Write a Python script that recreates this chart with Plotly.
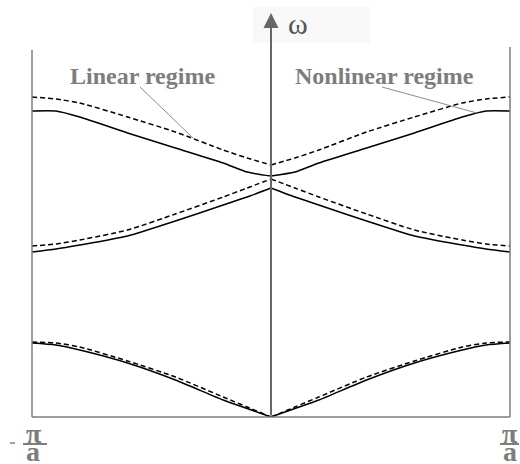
import plotly.graph_objects as go

# Wave number in units of pi/a across the first Brillouin zone
k = [-1.0, -0.9, -0.8, -0.6, -0.4, -0.2, -0.1, 0.0, 0.1, 0.2, 0.4, 0.6, 0.8, 0.9, 1.0]

# Dispersion branches (omega, arbitrary units): linear regime (dashed)
band1_linear = [0.75, 0.74, 0.70, 0.56, 0.40, 0.20, 0.10, 0.00, 0.10, 0.20, 0.40, 0.56, 0.70, 0.74, 0.75]
band2_linear = [1.71, 1.73, 1.77, 1.87, 2.03, 2.20, 2.29, 2.38, 2.29, 2.20, 2.03, 1.87, 1.77, 1.73, 1.71]
band3_linear = [3.20, 3.18, 3.14, 3.00, 2.85, 2.67, 2.59, 2.52, 2.59, 2.67, 2.85, 3.00, 3.14, 3.18, 3.20]

# Nonlinear regime (solid)
band1_nonlinear = [0.74, 0.72, 0.67, 0.54, 0.37, 0.17, 0.085, 0.00, 0.085, 0.17, 0.37, 0.54, 0.67, 0.72, 0.74]
band2_nonlinear = [1.65, 1.68, 1.72, 1.81, 1.96, 2.12, 2.20, 2.29, 2.20, 2.12, 1.96, 1.81, 1.72, 1.68, 1.65]
band3_nonlinear = [3.06, 3.06, 3.00, 2.84, 2.69, 2.54, 2.45, 2.41, 2.45, 2.54, 2.69, 2.84, 3.00, 3.06, 3.06]

GRAY = "#7d7d7d"
SERIF = "Liberation Serif"

W, H = 520, 464
L, R, T, B = 32, 10, 0, 47


def px(x):
    return (x - L) / (W - L - R)


def py(y):
    return (H - B - y) / (H - B - T)


fig = go.Figure()

centre = k.index(0.0)
halves = [(slice(0, centre + 1)), (slice(centre, len(k)))]

for series, dash in [
    (band1_linear, "5px,3px"), (band2_linear, "5px,3px"), (band3_linear, "5px,3px"),
    (band1_nonlinear, "solid"), (band2_nonlinear, "solid"), (band3_nonlinear, "solid"),
]:
    for sl in halves:
        fig.add_trace(go.Scatter(
            x=k[sl], y=series[sl], mode="lines",
            line=dict(color="black", width=1.5, dash=dash, shape="spline", smoothing=0.6),
            showlegend=False, hoverinfo="skip",
        ))

shapes = [
    # faint backdrop behind the omega label
    dict(type="rect", xref="paper", yref="paper", x0=px(253), x1=px(370), y0=py(43), y1=py(7),
         fillcolor="#f8f8f8", line=dict(width=0), layer="below"),
    # open frame: left, right and bottom sides
    dict(type="line", xref="paper", yref="paper", x0=px(32), x1=px(32), y0=py(417), y1=py(50),
         line=dict(color=GRAY, width=1.5)),
    dict(type="line", xref="paper", yref="paper", x0=px(510), x1=px(510), y0=py(417), y1=py(47),
         line=dict(color=GRAY, width=1.5)),
    dict(type="line", xref="paper", yref="paper", x0=px(32), x1=px(510), y0=py(417), y1=py(417),
         line=dict(color=GRAY, width=1.5)),
    # fraction bars of the zone-boundary labels
    dict(type="line", xref="paper", yref="paper", x0=px(23), x1=px(47), y0=py(444), y1=py(444),
         line=dict(color=GRAY, width=2)),
    dict(type="line", xref="paper", yref="paper", x0=px(500), x1=px(519), y0=py(444), y1=py(444),
         line=dict(color=GRAY, width=2)),
    dict(type="line", xref="paper", yref="paper", x0=px(10), x1=px(15), y0=py(443), y1=py(443),
         line=dict(color=GRAY, width=1.5)),
    # leader lines from the regime labels
    dict(type="line", xref="paper", yref="paper", x0=px(140), x1=px(193), y0=py(87), y1=py(138),
         line=dict(color="#8c8c8c", width=1)),
    dict(type="line", xref="paper", yref="paper", x0=px(382), x1=px(477), y0=py(87), y1=py(113),
         line=dict(color="#8c8c8c", width=1)),
]


def label(x, y, text, size, color=GRAY):
    return dict(xref="paper", yref="paper", x=px(x), y=py(y), text=text, showarrow=False,
                xanchor="center", yanchor="middle",
                font=dict(family=SERIF, size=size, color=color))


annotations = [
    # vertical omega axis with arrow
    dict(xref="paper", yref="paper", x=px(271), y=py(13), ax=0, ay=417 - 13,
         axref="pixel", ayref="pixel", text="", showarrow=True,
         arrowhead=2, arrowsize=1.5, arrowwidth=2, arrowcolor="#666666"),
    label(298, 24, "ω", 30, "#555555"),
    label(142, 76, "<b>Linear regime</b>", 24),
    label(384, 76, "<b>Nonlinear regime</b>", 24),
    # zone-boundary labels -pi/a and pi/a
    label(34, 433, "<b>π</b>", 28),
    label(33, 452, "<b>a</b>", 28),
    label(510, 433, "<b>π</b>", 28),
    label(510, 452, "<b>a</b>", 28),
]

fig.update_layout(
    width=W, height=H,
    margin=dict(l=L, r=R, t=T, b=B),
    paper_bgcolor="white", plot_bgcolor="white",
    xaxis=dict(range=[-1, 1], visible=False, fixedrange=True),
    yaxis=dict(range=[0, (H - B - T) / 100], visible=False, fixedrange=True),
    shapes=shapes, annotations=annotations, showlegend=False,
)

fig.write_html("out.html")
